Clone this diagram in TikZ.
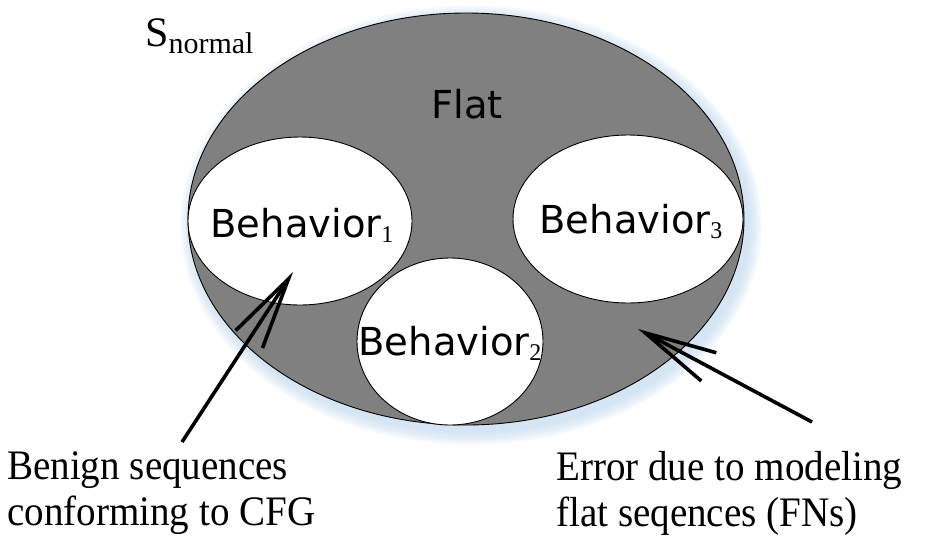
\documentclass[tikz,border=0pt]{standalone}
\usepackage{fontspec}
\setmainfont{Liberation Serif}
\newfontfamily\notefont[FakeStretch=0.93]{Liberation Serif}
\newfontfamily\behfont{DejaVu Sans}
\usetikzlibrary{shapes.geometric,arrows.meta}
\definecolor{regiongray}{HTML}{808080}
\definecolor{glow}{HTML}{BFD6EE}
% serif subscript used beside the sans-serif region names
\newcommand\regsub[1]{\raisebox{-5pt}{\rmfamily\fontsize{24}{24}\selectfont #1}}
\begin{document}
\begin{tikzpicture}[x=1pt,y=-1pt,
  region/.style={draw=black,line width=0.9pt,ellipse,inner sep=0pt,outer sep=0pt},
  behlabel/.style={font=\behfont\fontsize{38.5}{44}\selectfont,inner sep=0pt,anchor=base},
  note/.style={font=\notefont\fontsize{42}{46}\selectfont,align=left,inner sep=0pt,anchor=north west},
  pointer/.style={line width=3.6pt,-{Straight Barb[length=72pt,width=32pt]}}
]
\useasboundingbox (0,0) rectangle (941,539);

% soft glow under the outer set
\foreach \k in {1,...,8}
  \fill[glow,opacity=0.12] (471,225) ellipse ({277+\k*1.7} and {206+\k*1.7});

% the outer set and its three behaviours
\node[region,fill=regiongray,minimum width=556pt,minimum height=412pt] (outer) at (466,219) {};
\node[region,fill=white,minimum width=224pt,minimum height=168pt] (b1) at (300,221) {};
\node[region,fill=white,minimum width=230pt,minimum height=168pt] (b3) at (628,219) {};
\node[region,fill=white,minimum width=186pt,minimum height=167pt] (b2) at (450,341.5) {};

% region names
\node[behlabel] (flat) at (467,118) {Flat};
\node[behlabel] (t1) at (302,237) {Behavior\regsub{1}};
\node[behlabel] (t3) at (631,233) {Behavior\regsub{3}};
\node[behlabel] (t2) at (450,355) {Behavior\regsub{2}};

\node[anchor=base west,inner sep=0pt] (sn) at (145,46)
  {\fontsize{42}{42}\selectfont S\raisebox{-7pt}{\fontsize{30}{30}\selectfont normal}};

% explanatory notes
\node[note] (benign) at (7,451) {Benign sequences\\conforming to CFG};
\node[note] (error) at (556,451) {Error due to modeling\\flat seqences (FNs)};

% pointers
\coordinate (tailL) at (182,442);
\coordinate (tipL) at (293,272);
\coordinate (tailR) at (812,422);
\coordinate (tipR) at (638,329);
\draw[pointer] (tailL) -- (tipL);
\draw[pointer] (tailR) -- (tipR);
\end{tikzpicture}
\end{document}
